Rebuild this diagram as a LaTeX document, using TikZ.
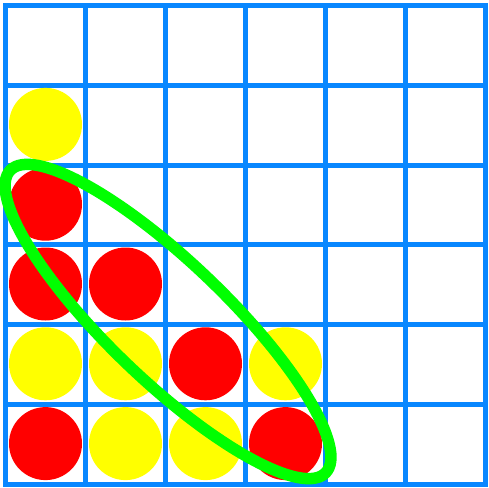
\documentclass[tikz,border=0pt]{standalone}
\definecolor{gridblue}{RGB}{8,135,255}
\definecolor{discred}{RGB}{255,0,0}
\definecolor{discyellow}{RGB}{255,255,0}
\definecolor{ringgreen}{RGB}{0,255,0}
\tikzset{
  gridline/.style={draw=gridblue, line width=5pt, line cap=rect},
  reddisc/.style={fill=discred},
  yellowdisc/.style={fill=discyellow},
  ring/.style={draw=ringgreen, line width=11.5pt}
}
\begin{document}
\begin{tikzpicture}[x=1pt,y=-1pt]
\useasboundingbox[fill=white] (0,0) rectangle (489,487);
% grid
\foreach \i in {0,...,6} {
  \draw[gridline] ({5.5+80*\i},5.5) -- ({5.5+80*\i},484.3);
  \draw[gridline] (5.5,{5.5+79.8*\i}) -- (485.5,{5.5+79.8*\i});
}
% discs: col/row
\foreach \c/\r in {0/1,0/4,1/4,3/4,1/5,2/5}
  \fill[yellowdisc] ({45.5+80*\c},{44.6+79.8*\r}) circle (36.5);
\foreach \c/\r in {0/2,0/3,1/3,2/4,0/5,3/5}
  \fill[reddisc] ({45.5+80*\c},{44.6+79.8*\r}) circle (36.5);
% green ring
\draw[ring] (168,321.5) ellipse [x radius=218.5, y radius=59, rotate=-43.8];
\end{tikzpicture}
\end{document}
